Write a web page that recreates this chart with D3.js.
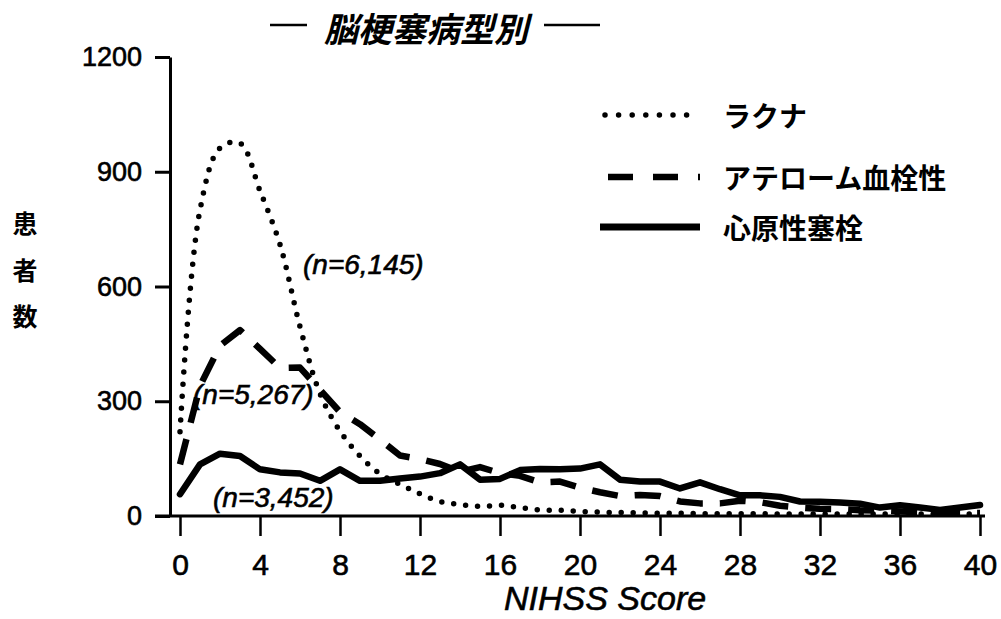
<!DOCTYPE html>
<html>
<head>
<meta charset="utf-8">
<script src="https://cdn.jsdelivr.net/npm/d3@7"></script>
<style>
  html, body { margin: 0; padding: 0; background: #fff; }
  svg { display: block; }
  .num { font-family: "Liberation Sans", Arial, sans-serif; stroke: #000; stroke-width: 0.6px; }
  .jp { font-family: "Noto Sans CJK JP", sans-serif; font-weight: bold; }
</style>
</head>
<body>
<svg id="chart" width="1001" height="619"></svg>
<script>
// ---- data ----
const scores = d3.range(0, 41);
const lacunar = [220, 800, 962, 975, 850, 710, 495, 320, 222, 157, 110, 83, 58, 38, 30, 25, 28, 22, 16, 15,
                 12, 10, 9, 8, 7, 7, 6, 6, 6, 6, 5, 5, 5, 5, 5, 5, 5, 5, 5, 5, 5];
const atherothrombotic = [135, 340, 445, 486, 437, 387, 388, 330, 272, 240, 200, 158, 149, 136, 115, 128, 112, 105, 88, 90,
                          74, 62, 52, 55, 52, 38, 33, 33, 40, 36, 27, 22, 19, 18, 15, 14, 12, 10, 9, 8, 8];
const cardioembolic = [57, 135, 163, 157, 122, 114, 111, 92, 122, 92, 92, 98, 103, 112, 135, 95, 97, 120, 123, 122,
                       124, 135, 95, 90, 90, 72, 88, 70, 54, 54, 50, 38, 37, 35, 32, 22, 28, 22, 16, 22, 29];
const seriesNames = ["ラクナ", "アテローム血栓性", "心原性塞栓"];
const nLabels = ["(n=6,145)", "(n=5,267)", "(n=3,452)"];
const xTicks = [0, 4, 8, 12, 16, 20, 24, 28, 32, 36, 40];
const yTicks = [0, 300, 600, 900, 1200];
const title = "脳梗塞病型別";
const yLabel = ["患", "者", "数"];
const xLabel = "NIHSS Score";

// ---- drawing ----
const svg = d3.select("#chart");
svg.append("rect").attr("width", 1001).attr("height", 619).attr("fill", "#fff");

const x = d3.scaleLinear().domain([0, 40]).range([180, 980]);
const y = d3.scaleLinear().domain([0, 1200]).range([516, 57]);

// title
svg.append("line").attr("x1", 270).attr("x2", 307).attr("y1", 25).attr("y2", 25)
  .attr("stroke", "#000").attr("stroke-width", 2.5);
svg.append("line").attr("x1", 544).attr("x2", 600).attr("y1", 25).attr("y2", 25)
  .attr("stroke", "#000").attr("stroke-width", 2.5);
svg.append("text").attr("class", "jp").attr("x", 426).attr("y", 42)
  .attr("text-anchor", "middle").attr("font-size", 34).attr("font-style", "italic")
  .text(title);

// y axis
const yAxis = d3.axisLeft(y).tickValues(yTicks).tickSize(15).tickSizeOuter(0).tickPadding(13)
  .tickFormat(d3.format("d"));
const gy = svg.append("g").attr("transform", "translate(170,0)").call(yAxis);
gy.select(".domain").attr("stroke-width", 3);
gy.selectAll(".tick line").attr("stroke-width", 3);
gy.selectAll(".tick text").attr("class", "num").attr("font-size", 27).attr("fill", "#000");

// x axis
const xAxis = d3.axisBottom(x).tickValues(xTicks).tickSize(20).tickSizeOuter(0).tickPadding(18);
const gx = svg.append("g").attr("transform", "translate(0,516)").call(xAxis);
gx.select(".domain").remove();
gx.selectAll(".tick line").attr("stroke-width", 2.5);
gx.selectAll(".tick text").attr("class", "num").attr("font-size", 30).attr("fill", "#000");
svg.append("line").attr("x1", 155).attr("x2", 985).attr("y1", 516).attr("y2", 516)
  .attr("stroke", "#000").attr("stroke-width", 3);

// axis titles
svg.append("text").attr("class", "num").attr("x", 504).attr("y", 610)
  .attr("font-size", 34).attr("font-style", "italic").text(xLabel);
const yCenters = [222, 269, 315];
svg.selectAll("text.ylab").data(yLabel).join("text")
  .attr("class", "ylab jp").attr("x", 25).attr("y", (d, i) => yCenters[i])
  .attr("text-anchor", "middle").attr("dominant-baseline", "central")
  .attr("font-size", 25).text(d => d);

// lines
const styles = [
  { w: 5.5, dash: "0 12", cap: "round", curve: d3.curveCatmullRom },
  { w: 6.5, dash: "26 17", cap: "butt", curve: d3.curveLinear },
  { w: 6.5, dash: null, cap: "round", curve: d3.curveLinear }
];
const allSeries = [lacunar, atherothrombotic, cardioembolic];
allSeries.forEach((vals, i) => {
  const line = d3.line().x((d, j) => x(scores[j])).y(d => y(d)).curve(styles[i].curve);
  svg.append("path").datum(vals).attr("d", line)
    .attr("fill", "none").attr("stroke", "#000")
    .attr("stroke-width", styles[i].w)
    .attr("stroke-linecap", styles[i].cap)
    .attr("stroke-linejoin", "round")
    .attr("stroke-dasharray", styles[i].dash);
});

// n annotations
const nPos = [[303, 274], [193, 404], [213, 507]];
svg.selectAll("text.nlab").data(nLabels).join("text")
  .attr("class", "nlab num").attr("x", (d, i) => nPos[i][0]).attr("y", (d, i) => nPos[i][1])
  .attr("font-size", 28).attr("font-style", "italic").text(d => d);

// legend
const legY = [115, 177, 227];
const legLines = [[605, 690], [608, 700], [600, 700]];
const legDash = ["0 13.6", "25 20", null];
const legW = [5.5, 6.5, 7];
seriesNames.forEach((name, i) => {
  svg.append("line").attr("x1", legLines[i][0]).attr("x2", legLines[i][1])
    .attr("y1", legY[i]).attr("y2", legY[i])
    .attr("stroke", "#000").attr("stroke-width", legW[i])
    .attr("stroke-linecap", i === 0 ? "round" : "butt")
    .attr("stroke-dasharray", legDash[i]);
  svg.append("text").attr("class", "jp").attr("x", 723).attr("y", legY[i])
    .attr("dominant-baseline", "central").attr("font-size", 28).text(name);
});
</script>
</body>
</html>
